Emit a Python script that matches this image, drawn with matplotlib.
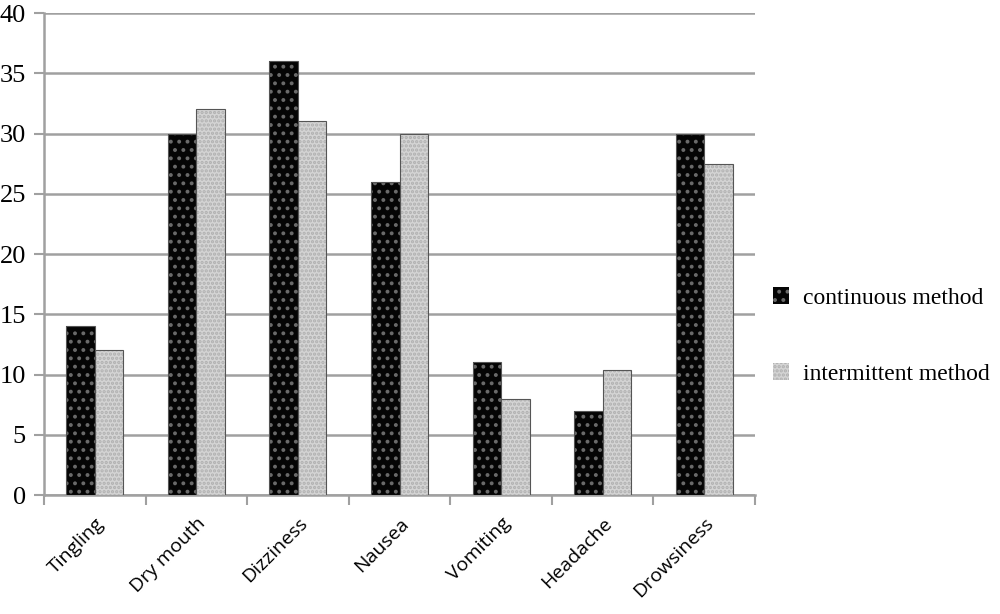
import numpy as np
import matplotlib
matplotlib.use('Agg')
import matplotlib.pyplot as plt

symptoms = ['Tingling', 'Dry mouth', 'Dizziness', 'Nausea', 'Vomiting', 'Headache', 'Drowsiness']
continuous = [14, 30, 36, 26, 11, 7, 30]
intermittent = [12, 32, 31, 30, 8, 10.4, 27.5]
series_labels = ['continuous method', 'intermittent method']
y_ticks = [0, 5, 10, 15, 20, 25, 30, 35, 40]

plt.rcParams['hatch.linewidth'] = 1.6

fig = plt.figure(figsize=(10, 6.14), dpi=100)
ax = fig.add_axes([0.044, 0.1938, 0.711, 0.785])

x = np.arange(len(symptoms))
w = 0.28
b1 = ax.bar(x - w / 2, continuous, w, color='#050505', edgecolor='#6a6a6a',
            hatch='..', linewidth=0, label=series_labels[0], zorder=3)
b2 = ax.bar(x + w / 2, intermittent, w, color='#d4d4d4', edgecolor='#b0b0b0',
            hatch='....', linewidth=0, label=series_labels[1], zorder=3)
# thin outline around bars
for r in list(b1) + list(b2):
    ax.add_patch(plt.Rectangle(r.get_xy(), r.get_width(), r.get_height(),
                               fill=False, edgecolor='#555555', linewidth=0.8, zorder=4))

ax.set_xlim(-0.5, len(symptoms) - 0.5)
ax.set_ylim(0, 40)
ax.set_yticks(y_ticks)
ax.set_yticklabels([str(t) for t in y_ticks], family='Liberation Serif', fontsize=19)
ax.yaxis.grid(True, color='#a0a0a0', linewidth=1.8, zorder=0)
ax.tick_params(axis='y', length=7, color='#a0a0a0', width=1.5, pad=6)

ax.set_xticks(x)
ax.set_xticklabels(symptoms, rotation=45, ha='right', rotation_mode='anchor',
                   family='Open Sans', fontsize=14)
ax.tick_params(axis='x', length=0, pad=14)
ax.set_xticks(np.arange(len(symptoms) + 1) - 0.5, minor=True)
ax.tick_params(axis='x', which='minor', length=7, color='#a0a0a0', width=1.5)

for s in ['top', 'right']:
    ax.spines[s].set_visible(False)
for s in ['left', 'bottom']:
    ax.spines[s].set_color('#a0a0a0')
    ax.spines[s].set_linewidth(1.8)

ax.legend(handles=[b1, b2], loc='center left', bbox_to_anchor=(0.995, 0.33),
          frameon=False, prop={'family': 'Liberation Serif', 'size': 17},
          handlelength=0.7, handleheight=0.7, handletextpad=0.6, labelspacing=2.3)

fig.savefig('out.png', dpi=100)
